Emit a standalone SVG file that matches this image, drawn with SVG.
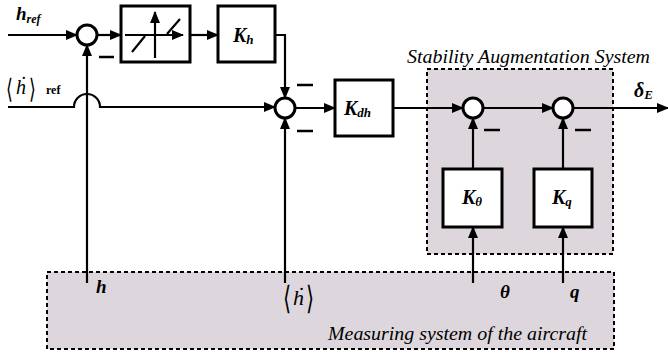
<svg xmlns="http://www.w3.org/2000/svg" width="668" height="353" viewBox="0 0 668 353">
<style>
.ln{fill:none;stroke:#000;stroke-width:2.2}
.bx{fill:#fff;stroke:#000;stroke-width:3}
.sj{fill:#fff;stroke:#000;stroke-width:3}
.mn{stroke:#000;stroke-width:2.5}
.grp{fill:#ddd7dd;stroke:#000;stroke-width:2;stroke-dasharray:4 3}
.bi{font-family:"Liberation Serif","Times New Roman",serif;font-weight:bold;font-style:italic;fill:#000}
.it{font-family:"Liberation Serif","Times New Roman",serif;font-style:italic;fill:#000}
.rf{font-family:"Liberation Serif","Times New Roman",serif;font-weight:bold;fill:#000}
.br{font-family:"DejaVu Serif","DejaVu Sans",serif;fill:#000}
</style>
<defs>
<marker id="ar" markerWidth="12" markerHeight="10" refX="11" refY="5" orient="auto" markerUnits="userSpaceOnUse">
<path d="M0,0 L12,5 L0,10 z" fill="#000"/>
</marker>
</defs>
<g id="measuring-system">
<rect class="grp" x="47" y="272" width="567" height="77"/>
<text class="it" x="328" y="340" font-size="18" textLength="259" lengthAdjust="spacingAndGlyphs">Measuring system of the aircraft</text>
<text class="bi" x="96" y="293" font-size="19">h</text>
<g id="hdot-meas">
<text class="br" x="283" y="309" font-size="32" transform="translate(283 0) scale(0.65 1) translate(-283 0)">⟨</text>
<text class="it" x="293" y="305" font-size="22">ḣ</text>
<text class="br" x="306" y="309" font-size="32" transform="translate(306 0) scale(0.65 1) translate(-306 0)">⟩</text>
</g>
<text class="bi" x="500" y="298" font-size="19">θ</text>
<text class="bi" x="570" y="298" font-size="19">q</text>
</g>
<g id="sas">
<rect class="grp" x="427" y="69" width="186" height="185"/>
<text class="it" x="407" y="63" font-size="18" textLength="243" lengthAdjust="spacingAndGlyphs">Stability Augmentation System</text>
</g>
<g id="connectors">
<line class="ln" x1="8" y1="35" x2="77" y2="35" marker-end="url(#ar)"/>
<line class="ln" x1="97" y1="35" x2="121" y2="35" marker-end="url(#ar)"/>
<line class="ln" x1="190" y1="35" x2="218" y2="35" marker-end="url(#ar)"/>
<path class="ln" d="M275,35 H285 V98" marker-end="url(#ar)"/>
<path class="ln" d="M8,107 H74 A13,13 0 0 1 100,107 H275" marker-end="url(#ar)"/>
<path class="ln" d="M87,283 V45" marker-end="url(#ar)"/>
<path class="ln" d="M285,283 V118" marker-end="url(#ar)"/>
<line class="ln" x1="295" y1="108" x2="335" y2="108" marker-end="url(#ar)"/>
<line class="ln" x1="393" y1="108" x2="463" y2="108" marker-end="url(#ar)"/>
<line class="ln" x1="483" y1="108" x2="553" y2="108" marker-end="url(#ar)"/>
<line class="ln" x1="573" y1="108" x2="668" y2="108" marker-end="url(#ar)"/>
<path class="ln" d="M473,169 V118" marker-end="url(#ar)"/>
<path class="ln" d="M563,169 V118" marker-end="url(#ar)"/>
<path class="ln" d="M473,283 V227" marker-end="url(#ar)"/>
<path class="ln" d="M563,283 V227" marker-end="url(#ar)"/>
<line class="mn" x1="99" y1="57" x2="114" y2="57"/>
<line class="mn" x1="297" y1="85" x2="313" y2="85"/>
<line class="mn" x1="297" y1="131" x2="313" y2="131"/>
<line class="mn" x1="484" y1="130" x2="500" y2="130"/>
<line class="mn" x1="575" y1="130" x2="591" y2="130"/>
</g>
<g id="label-href"><text class="bi" x="16" y="20" font-size="19">h<tspan font-size="12" dy="3">ref</tspan></text></g>
<g id="label-hdotref">
<text class="br" x="6" y="98" font-size="27" transform="translate(6 0) scale(0.65 1) translate(-6 0)">⟨</text>
<text class="it" x="16" y="94" font-size="20">ḣ</text>
<text class="br" x="29" y="98" font-size="27" transform="translate(29 0) scale(0.65 1) translate(-29 0)">⟩</text>
<text class="rf" x="46" y="94" font-size="12">ref</text>
</g>
<g id="sum1"><circle class="sj" cx="87" cy="35" r="10"/></g>
<g id="deadzone">
<rect class="bx" x="121" y="6" width="69" height="56"/>
<line class="ln" x1="125" y1="35" x2="183" y2="35" marker-end="url(#ar)"/>
<line class="ln" x1="155" y1="58" x2="155" y2="12" marker-end="url(#ar)"/>
<line class="ln" x1="132" y1="52" x2="145" y2="36"/>
<line class="ln" x1="167" y1="34" x2="180" y2="19"/>
</g>
<g id="Kh"><rect class="bx" x="218" y="6" width="57" height="56"/><text class="bi" x="233" y="42" font-size="20">K<tspan font-size="13" dy="2">h</tspan></text></g>
<g id="sum2"><circle class="sj" cx="285" cy="108" r="10"/></g>
<g id="Kdh"><rect class="bx" x="335" y="80" width="58" height="56"/><text class="bi" x="344" y="115" font-size="20">K<tspan font-size="13" dy="2">dh</tspan></text></g>
<g id="sum3"><circle class="sj" cx="473" cy="108" r="10"/></g>
<g id="sum4"><circle class="sj" cx="563" cy="108" r="10"/></g>
<g id="Ktheta"><rect class="bx" x="443" y="169" width="59" height="58"/><text class="bi" x="462" y="204" font-size="20">K<tspan font-size="13" dy="2">θ</tspan></text></g>
<g id="Kq"><rect class="bx" x="534" y="169" width="58" height="58"/><text class="bi" x="552" y="204" font-size="20">K<tspan font-size="13" dy="2">q</tspan></text></g>
<g id="label-deltaE"><text class="bi" x="634" y="97" font-size="20">δ<tspan font-size="13" dy="2">E</tspan></text></g>
</svg>
